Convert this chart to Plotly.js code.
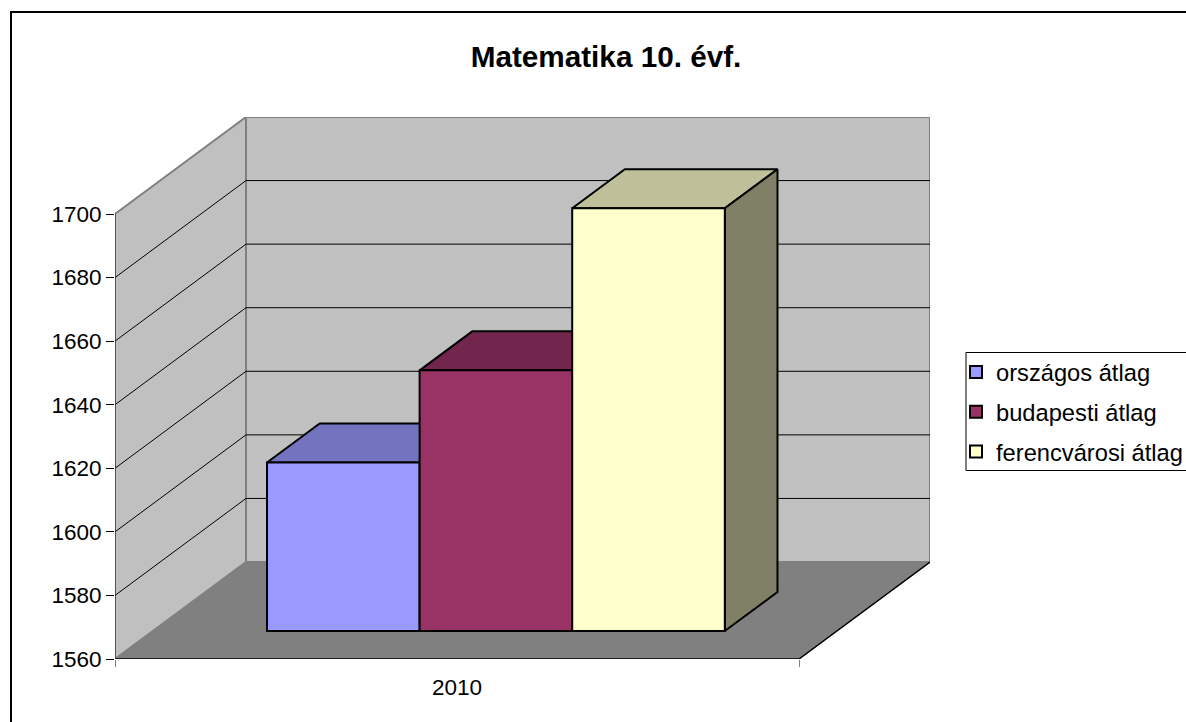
<!DOCTYPE html>
<html><head><meta charset="utf-8">
<script src="https://cdn.plot.ly/plotly-3.0.1.min.js"></script>
<style>html,body{margin:0;padding:0;background:#fff;overflow:hidden}</style>
</head><body><div id="chart" style="width:1186px;height:722px"></div>
<script>
// data
const titleText = 'Matematika 10. évf.';
const category = ['2010'];
const seriesNames = ['országos átlag', 'budapesti átlag', 'ferencvárosi átlag'];
const seriesValues = [1613, 1642, 1693];
const yTicks = [1560, 1580, 1600, 1620, 1640, 1660, 1680, 1700];

// colours
const frontColors = ['#9999FF', '#993366', '#FFFFCC'];
const topColors = ['#7373BF', '#73264D', '#BFBF99'];
const sideColors = ['#4D4D80', '#4D1A33', '#808066'];

// oblique projection: depth 0 = front plane, depth 1 = back wall
const W = 1186, H = 722;
const L = 115, R = 930, T = 117, B = 659;
const unitPx = 684;               // width of the category on the front plane
const valPx = 445 / 140;          // pixels per value unit
const dxUnit = 131 / unitPx;      // x shift at full depth
const dyVal = 97 / valPx;         // value shift at full depth
const yMin = yTicks[0], yMax = yTicks[yTicks.length - 1];
const xRange = [0, (R - L) / unitPx];
const yRange = [yMin, yMin + (B - T) / valPx];
const px = (x, v, d) => x + d * dxUnit;
const py = (x, v, d) => v + d * dyVal;
const pt = (x, v, d) => [px(x, v, d), py(x, v, d)];

function poly(points, fill, line, width) {
  return {
    type: 'scatter', mode: 'lines', xaxis: 'x', yaxis: 'y',
    x: points.map(p => p[0]), y: points.map(p => p[1]),
    fill: fill ? 'toself' : 'none', fillcolor: fill || undefined,
    line: {color: line, width: width},
    showlegend: false, hoverinfo: 'skip', cliponaxis: false
  };
}
function close(a) { return a.concat([a[0]]); }

const traces = [];
// walls and floor
traces.push(poly(close([pt(0, yMin, 0), pt(0, yMax, 0), pt(0, yMax, 1), pt(0, yMin, 1)]), '#C0C0C0', '#808080', 2));
traces.push(poly(close([pt(0, yMin, 1), pt(0, yMax, 1), pt(1, yMax, 1), pt(1, yMin, 1)]), '#C0C0C0', '#808080', 2));
traces.push(poly(close([pt(0, yMin, 0), pt(0, yMin, 1), pt(1, yMin, 1), pt(1, yMin, 0)]), '#808080', '#808080', 1));
// grid lines
yTicks.slice(1, -1).forEach(v => {
  traces.push(poly([pt(0, v, 0), pt(0, v, 1), pt(1, v, 1)], null, '#000000', 1));
});
// front edges
traces.push(poly([pt(0, yMin, 0), pt(1, yMin, 0), pt(1, yMin, 1)], null, '#000000', 1.5));
traces.push(poly([pt(0, yMin, 0), pt(0, yMax, 0)], null, '#333333', 1.2));

// bars
const barW = 152.6 / unitPx;
const barStart = 114.2 / unitPx;
const dNear = 28 / 97, dFar = 67 / 97;
seriesValues.forEach((v, i) => {
  const x0 = barStart + i * barW, x1 = x0 + barW;
  traces.push(poly(close([pt(x0, v, dNear), pt(x0, v, dFar), pt(x1, v, dFar), pt(x1, v, dNear)]), topColors[i], '#000000', 2));
  traces.push(poly(close([pt(x1, yMin, dNear), pt(x1, yMin, dFar), pt(x1, v, dFar), pt(x1, v, dNear)]), sideColors[i], '#000000', 2));
});
seriesValues.forEach((v, i) => {
  const x0 = barStart + i * barW;
  traces.push({
    type: 'bar', xaxis: 'x2', yaxis: 'y2', name: seriesNames[i],
    x: [px(x0 + barW / 2, v, dNear)], width: [barW],
    base: [py(0, yMin, dNear)], y: [v - yMin],
    marker: {color: frontColors[i], line: {color: '#000000', width: 2}},
    hoverinfo: 'skip', legendgroup: 'g' + i
  });
});

const tickFont = {family: 'Liberation Sans, Arial, sans-serif', size: 22.5, color: '#000000'};
const pw = R - L, ph = B - T;
const paperX = p => (p - L) / pw;
const paperY = p => (B - p) / ph;

const layout = {
  width: W, height: H,
  margin: {l: L, r: W - R, t: T, b: H - B, pad: 0, autoexpand: false},
  paper_bgcolor: '#FFFFFF', plot_bgcolor: 'rgba(0,0,0,0)',
  barmode: 'overlay', showlegend: true,
  title: {text: '<b>' + titleText + '</b>', x: 606 / W, xanchor: 'center', y: 1 - 57 / H, yanchor: 'middle',
          font: {family: 'Liberation Sans, Arial, sans-serif', size: 29.7, color: '#000000'}},
  xaxis: {range: xRange, tickmode: 'array', tickvals: [0, 1], ticktext: ['', ''], ticks: 'outside', ticklen: 7,
          tickcolor: '#808080', tickwidth: 1, showgrid: false, zeroline: false, showline: false, fixedrange: true},
  yaxis: {range: yRange, tickmode: 'array', tickvals: yTicks, ticks: 'outside', ticklen: 8, tickcolor: '#000000',
          tickwidth: 1, tickfont: tickFont, showgrid: false, zeroline: false, showline: false, fixedrange: true},
  xaxis2: {range: xRange, overlaying: 'x', anchor: 'y2', side: 'bottom', tickmode: 'array', tickvals: [0.5], ticktext: category,
           ticks: '', ticklabelstandoff: 12, tickfont: tickFont, showgrid: false, zeroline: false, showline: false, fixedrange: true},
  yaxis2: {range: yRange, overlaying: 'y', anchor: 'x2', visible: false, fixedrange: true},
  legend: {x: paperX(956), y: paperY(350), xanchor: 'left', yanchor: 'top', bgcolor: 'rgba(0,0,0,0)', borderwidth: 0,
           traceorder: 'grouped', tracegroupgap: 6, itemclick: false, itemdoubleclick: false,
           font: {family: 'Liberation Sans, Arial, sans-serif', size: 23.7, color: '#000000'}},
  shapes: [
    {type: 'rect', xref: 'paper', yref: 'paper', x0: paperX(11), x1: paperX(1200), y0: paperY(12), y1: paperY(760),
     line: {color: '#000000', width: 2}, fillcolor: 'rgba(0,0,0,0)', layer: 'below'},
    {type: 'rect', xref: 'paper', yref: 'paper', x0: paperX(966), x1: paperX(1200), y0: paperY(352.5), y1: paperY(470.5),
     line: {color: '#000000', width: 1}, fillcolor: '#FFFFFF', layer: 'below'}
  ]
};
Plotly.newPlot('chart', traces, layout, {displayModeBar: false});
</script></body></html>
